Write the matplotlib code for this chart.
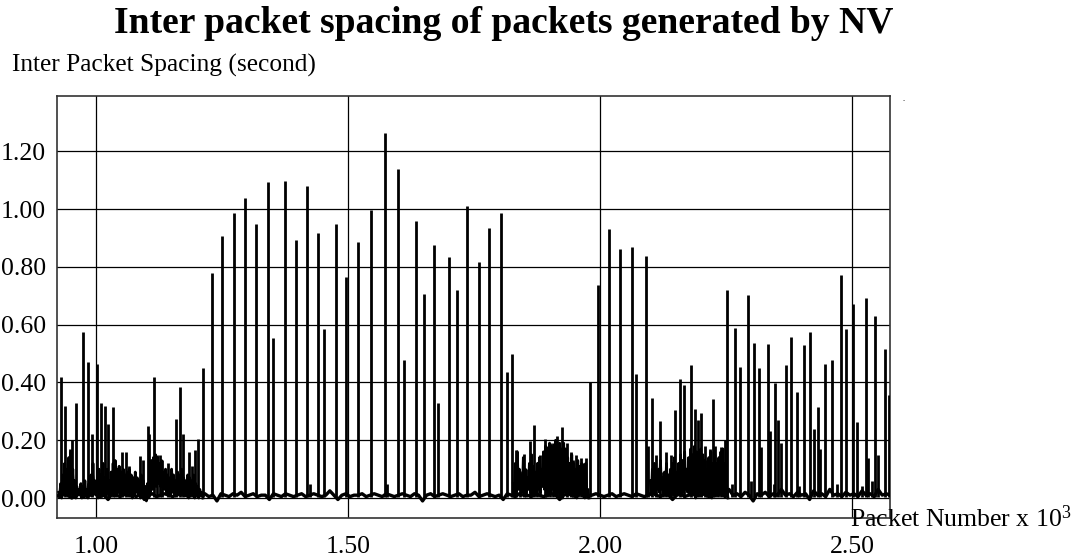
import matplotlib
matplotlib.use('Agg')
import matplotlib.pyplot as plt
import numpy as np

# isolated spikes (packet number, inter packet spacing in seconds)
spike_pkt = [931, 938, 944, 948, 952, 960, 974, 985, 992, 1003, 1010, 1018, 1024, 1033, 1038,
             1052, 1059, 1065, 1087, 1094, 1103, 1106, 1115, 1121, 1127, 1131, 1142, 1159, 1167,
             1173, 1184, 1191, 1196, 1202, 1213,
             1231, 1251, 1273, 1296, 1317, 1341, 1352, 1376, 1396, 1419, 1425, 1440, 1453, 1476,
             1497, 1519, 1545, 1573, 1577, 1599, 1611, 1634, 1651, 1671, 1679, 1700, 1716, 1737,
             1759, 1780, 1803, 1815, 1826,
             1833, 1841, 1849, 1854, 1861, 1870, 1876, 1881, 1891, 1895, 1901, 1906, 1914, 1918,
             1925, 1934, 1942, 1946, 1952, 1957, 1963, 1967, 1972, 1980,
             1997, 2018, 2039, 2063, 2071, 2092, 2096, 2104, 2111, 2120, 2125, 2132, 2140, 2149,
             2159, 2167, 2181, 2188, 2195, 2201, 2208, 2213, 2218, 2224, 2228, 2235, 2241, 2248,
             2253, 2262, 2267, 2277, 2294, 2300, 2305, 2315, 2319, 2333, 2338, 2345, 2347, 2353,
             2359, 2369, 2380, 2390, 2395, 2404, 2416, 2424, 2432, 2437, 2447, 2460, 2470, 2478,
             2489, 2503, 2510, 2520, 2528, 2532, 2540, 2545, 2551, 2566, 2574]
spike_val = [0.42, 0.32, 0.12, 0.17, 0.20, 0.33, 0.575, 0.47, 0.22, 0.465, 0.33, 0.32, 0.255, 0.315, 0.13,
             0.16, 0.16, 0.11, 0.145, 0.13, 0.25, 0.22, 0.42, 0.15, 0.15, 0.13, 0.12, 0.275, 0.385,
             0.22, 0.16, 0.11, 0.165, 0.205, 0.45,
             0.78, 0.905, 0.985, 1.037, 0.947, 1.092, 0.555, 1.096, 0.892, 1.078, 0.05, 0.917, 0.585, 0.949,
             0.765, 0.887, 0.997, 1.264, 0.05, 1.14, 0.479, 0.959, 0.706, 0.875, 0.328, 0.834, 0.72, 1.011,
             0.817, 0.934, 0.985, 0.437, 0.50,
             0.165, 0.095, 0.154, 0.10, 0.198, 0.253, 0.12, 0.15, 0.203, 0.18, 0.19, 0.19, 0.214, 0.19,
             0.247, 0.19, 0.16, 0.13, 0.15, 0.09, 0.14, 0.12, 0.14, 0.40,
             0.737, 0.93, 0.861, 0.868, 0.428, 0.837, 0.18, 0.346, 0.15, 0.266, 0.09, 0.16, 0.15, 0.305,
             0.413, 0.39, 0.462, 0.307, 0.27, 0.295, 0.18, 0.13, 0.17, 0.341, 0.18, 0.14, 0.175, 0.20,
             0.72, 0.05, 0.59, 0.454, 0.703, 0.06, 0.538, 0.45, 0.175, 0.532, 0.233, 0.05, 0.397, 0.27,
             0.19, 0.46, 0.557, 0.367, 0.04, 0.53, 0.575, 0.24, 0.314, 0.17, 0.464, 0.479, 0.05, 0.77,
             0.585, 0.671, 0.264, 0.04, 0.692, 0.14, 0.06, 0.631, 0.15, 0.517, 0.358]

# dense bursts: envelope highs and lows, one sample every 4 packets
burst_a_start = 926
burst_a_high = [0.02, 0.05, 0.08, 0.12, 0.10, 0.14, 0.16, 0.10, 0.06, 0.04, 0.03, 0.05, 0.04, 0.06,
                0.03, 0.05, 0.08, 0.12, 0.06, 0.05, 0.10, 0.08, 0.12, 0.07, 0.10, 0.06, 0.09, 0.12,
                0.13, 0.10, 0.11, 0.09, 0.10, 0.08, 0.09, 0.10, 0.08, 0.07, 0.09, 0.07, 0.06, 0.08,
                0.06, 0.04, 0.05, 0.08, 0.13, 0.14, 0.15, 0.14, 0.12, 0.13, 0.09, 0.10, 0.08, 0.07,
                0.10, 0.08, 0.06, 0.09, 0.08, 0.10, 0.07, 0.06, 0.08, 0.07, 0.06, 0.08, 0.05, 0.04,
                0.03, 0.02]
burst_a_low = [0.01, 0.00, 0.01, 0.02, 0.01, 0.01, 0.02, 0.01, 0.00, 0.01, 0.01, 0.00, 0.01, 0.01,
               0.00, 0.01, 0.01, 0.02, 0.01, 0.00, 0.01, 0.02, 0.01, 0.01, 0.02, 0.01, 0.01, 0.02,
               0.01, 0.02, 0.01, 0.02, 0.01, 0.01, 0.02, 0.01, 0.00, 0.01, 0.02, 0.01, 0.00, 0.01,
               0.00, -0.01, 0.00, 0.02, 0.03, 0.04, 0.04, 0.05, 0.04, 0.04, 0.03, 0.02, 0.01, 0.01,
               0.02, 0.01, 0.01, 0.02, 0.01, 0.02, 0.01, 0.01, 0.00, 0.01, 0.01, 0.00, 0.01, 0.00,
               0.01, 0.00]

burst_b_start = 1828
burst_b_high = [0.05, 0.12, 0.16, 0.10, 0.08, 0.14, 0.10, 0.07, 0.12, 0.15, 0.11, 0.09, 0.12, 0.14,
                0.10, 0.16, 0.18, 0.17, 0.19, 0.18, 0.16, 0.20, 0.18, 0.19, 0.17, 0.19, 0.17, 0.14,
                0.12, 0.15, 0.12, 0.10, 0.13, 0.11, 0.12, 0.10, 0.12, 0.03]
burst_b_low = [0.01, 0.02, 0.03, 0.03, 0.02, 0.01, 0.02, 0.03, 0.02, 0.01, 0.02, 0.01, 0.03, 0.02,
               0.04, 0.03, 0.02, 0.01, 0.02, 0.03, 0.02, 0.01, 0.02, 0.01, 0.00, 0.02, 0.01, 0.02,
               0.01, 0.02, 0.01, 0.00, 0.01, 0.02, 0.01, 0.00, 0.01, 0.00]

burst_c_start = 2100
burst_c_high = [0.06, 0.10, 0.12, 0.08, 0.10, 0.13, 0.07, 0.09, 0.12, 0.08, 0.10, 0.12, 0.14, 0.09,
                0.12, 0.15, 0.13, 0.16, 0.10, 0.14, 0.17, 0.15, 0.18, 0.16, 0.14, 0.17, 0.15, 0.13,
                0.10, 0.14, 0.16, 0.12, 0.15, 0.12, 0.14, 0.16, 0.17, 0.12, 0.03]
burst_c_low = [0.01, 0.02, 0.01, 0.03, 0.02, 0.03, 0.02, 0.01, 0.02, 0.01, 0.02, 0.01, 0.02, 0.01,
               0.02, 0.01, 0.02, 0.03, 0.02, 0.01, 0.02, 0.01, 0.00, 0.01, 0.02, 0.01, 0.02, 0.01,
               0.02, 0.01, 0.00, 0.01, 0.02, 0.01, 0.02, 0.01, 0.02, 0.01, 0.00]

# background jitter, one sample every 8 packets from packet 920
base_start = 920
base_y = [0.010, 0.005, 0.015, 0.010, 0.000, 0.010, 0.015, 0.005, 0.010, 0.010, 0.020, 0.005, 0.010, -0.005, 0.015, 0.010,
          0.005, 0.015, 0.010, 0.010, 0.005, 0.015, -0.005, 0.010, 0.015, 0.005, 0.010, 0.015, 0.010, 0.005, 0.010, 0.015,
          0.010, 0.005, 0.015, 0.010, 0.010, 0.015, 0.005, 0.010, -0.010, 0.015, 0.010, 0.005, 0.015, 0.010, 0.020, 0.005,
          0.010, 0.015, 0.005, 0.010, 0.010, -0.005, 0.015, 0.010, 0.005, 0.015, 0.010, 0.005, 0.010, 0.015, 0.005, 0.010,
          0.015, 0.010, 0.005, 0.010, 0.025, 0.010, -0.005, 0.010, 0.015, 0.005, 0.010, 0.010, 0.015, 0.005, 0.010, 0.015,
          0.010, 0.005, 0.015, 0.010, 0.005, 0.010, 0.015, 0.010, 0.005, 0.015, 0.010, -0.010, 0.010, 0.015, 0.005, 0.010,
          0.015, 0.010, 0.005, 0.010, 0.015, 0.005, 0.010, 0.010, 0.020, 0.005, 0.010, 0.015, 0.010, 0.005, 0.010, -0.005,
          0.015, 0.010, 0.005, 0.015, 0.010, 0.010, 0.005, 0.015, 0.010, 0.005, 0.010, 0.015, 0.010, -0.005, 0.010, 0.015,
          0.010, 0.005, 0.015, 0.010, 0.005, 0.010, 0.015, 0.010, 0.005, 0.010, 0.015, 0.005, 0.010, 0.015, 0.010, 0.005,
          0.015, 0.010, 0.005, 0.010, 0.020, 0.010, 0.005, 0.015, 0.010, -0.005, 0.010, 0.015, 0.005, 0.010, 0.015, 0.010,
          0.010, 0.015, 0.005, 0.020, 0.010, 0.015, 0.005, 0.030, 0.010, 0.015, 0.005, 0.020, 0.010, -0.010, 0.015, 0.010,
          0.020, 0.005, 0.015, 0.010, 0.030, 0.010, 0.015, 0.005, 0.020, 0.010, 0.015, -0.005, 0.025, 0.010, 0.015, 0.005,
          0.030, 0.010, 0.015, 0.005, 0.020, 0.010, 0.015, 0.005, 0.025, 0.010, 0.015, 0.005, 0.030, 0.010, 0.015, 0.010]

x_ticks = [1000, 1500, 2000, 2500]
x_tick_labels = ['1.00', '1.50', '2.00', '2.50']
y_ticks = [0.0, 0.2, 0.4, 0.6, 0.8, 1.0, 1.2]
y_tick_labels = ['0.00', '0.20', '0.40', '0.60', '0.80', '1.00', '1.20']

plt.rcParams['font.family'] = ['Liberation Serif', 'DejaVu Serif']
plt.rcParams['mathtext.fontset'] = 'custom'
plt.rcParams['mathtext.rm'] = 'Liberation Serif'
plt.rcParams['mathtext.it'] = 'Liberation Serif'


def zigzag(start, high, low, step=4):
	xs, ys = [], []
	for i, (h, l) in enumerate(zip(high, low)):
		xs += [start + step*i, start + step*i + step/2]
		ys += [h, l]
	return xs, ys


fig = plt.figure(figsize=(10.73, 5.6), dpi=100)
ax = fig.add_axes([0.0531, 0.075, 0.7763, 0.7536])

base_x = base_start + 8*np.arange(len(base_y))
ax.plot(base_x, base_y, color='black', lw=2.4, zorder=3)
for start, high, low in [(burst_a_start, burst_a_high, burst_a_low),
                         (burst_b_start, burst_b_high, burst_b_low),
                         (burst_c_start, burst_c_high, burst_c_low)]:
	bx, by = zigzag(start, high, low)
	ax.plot(bx, by, color='black', lw=2.0, zorder=3)
ax.vlines(spike_pkt, 0.005, spike_val, color='black', lw=2.0, zorder=4)

ax.set_xlim(922.6, 2575.4)
ax.set_ylim(-0.069, 1.391)
ax.set_xticks(x_ticks)
ax.set_xticklabels(x_tick_labels, fontsize=18.5)
ax.set_yticks(y_ticks)
ax.set_yticklabels(y_tick_labels, fontsize=18.5)
ax.tick_params(axis='both', length=0)
ax.tick_params(axis='x', pad=13)
ax.tick_params(axis='y', pad=8)
ax.grid(True, color='black', lw=0.9)
ax.set_axisbelow(True)
for s in ax.spines.values():
	s.set_color('#333333')
	s.set_linewidth(1.2)

fig.text(0.469, 1 - 33/560, 'Inter packet spacing of packets generated by NV',
	fontsize=27.1, fontweight='bold', ha='center', va='baseline')
fig.text(0.0115, 1 - 72/560, 'Inter Packet Spacing (second)', fontsize=18.3, ha='left', va='baseline')
fig.text(0.792, 1 - 527/560, 'Packet Number x 10$^3$', fontsize=18.5, ha='left', va='baseline')
fig.text(0.842, 1 - 101/560, '.', fontsize=6, ha='center', va='baseline')

fig.savefig('out.png', dpi=100)
